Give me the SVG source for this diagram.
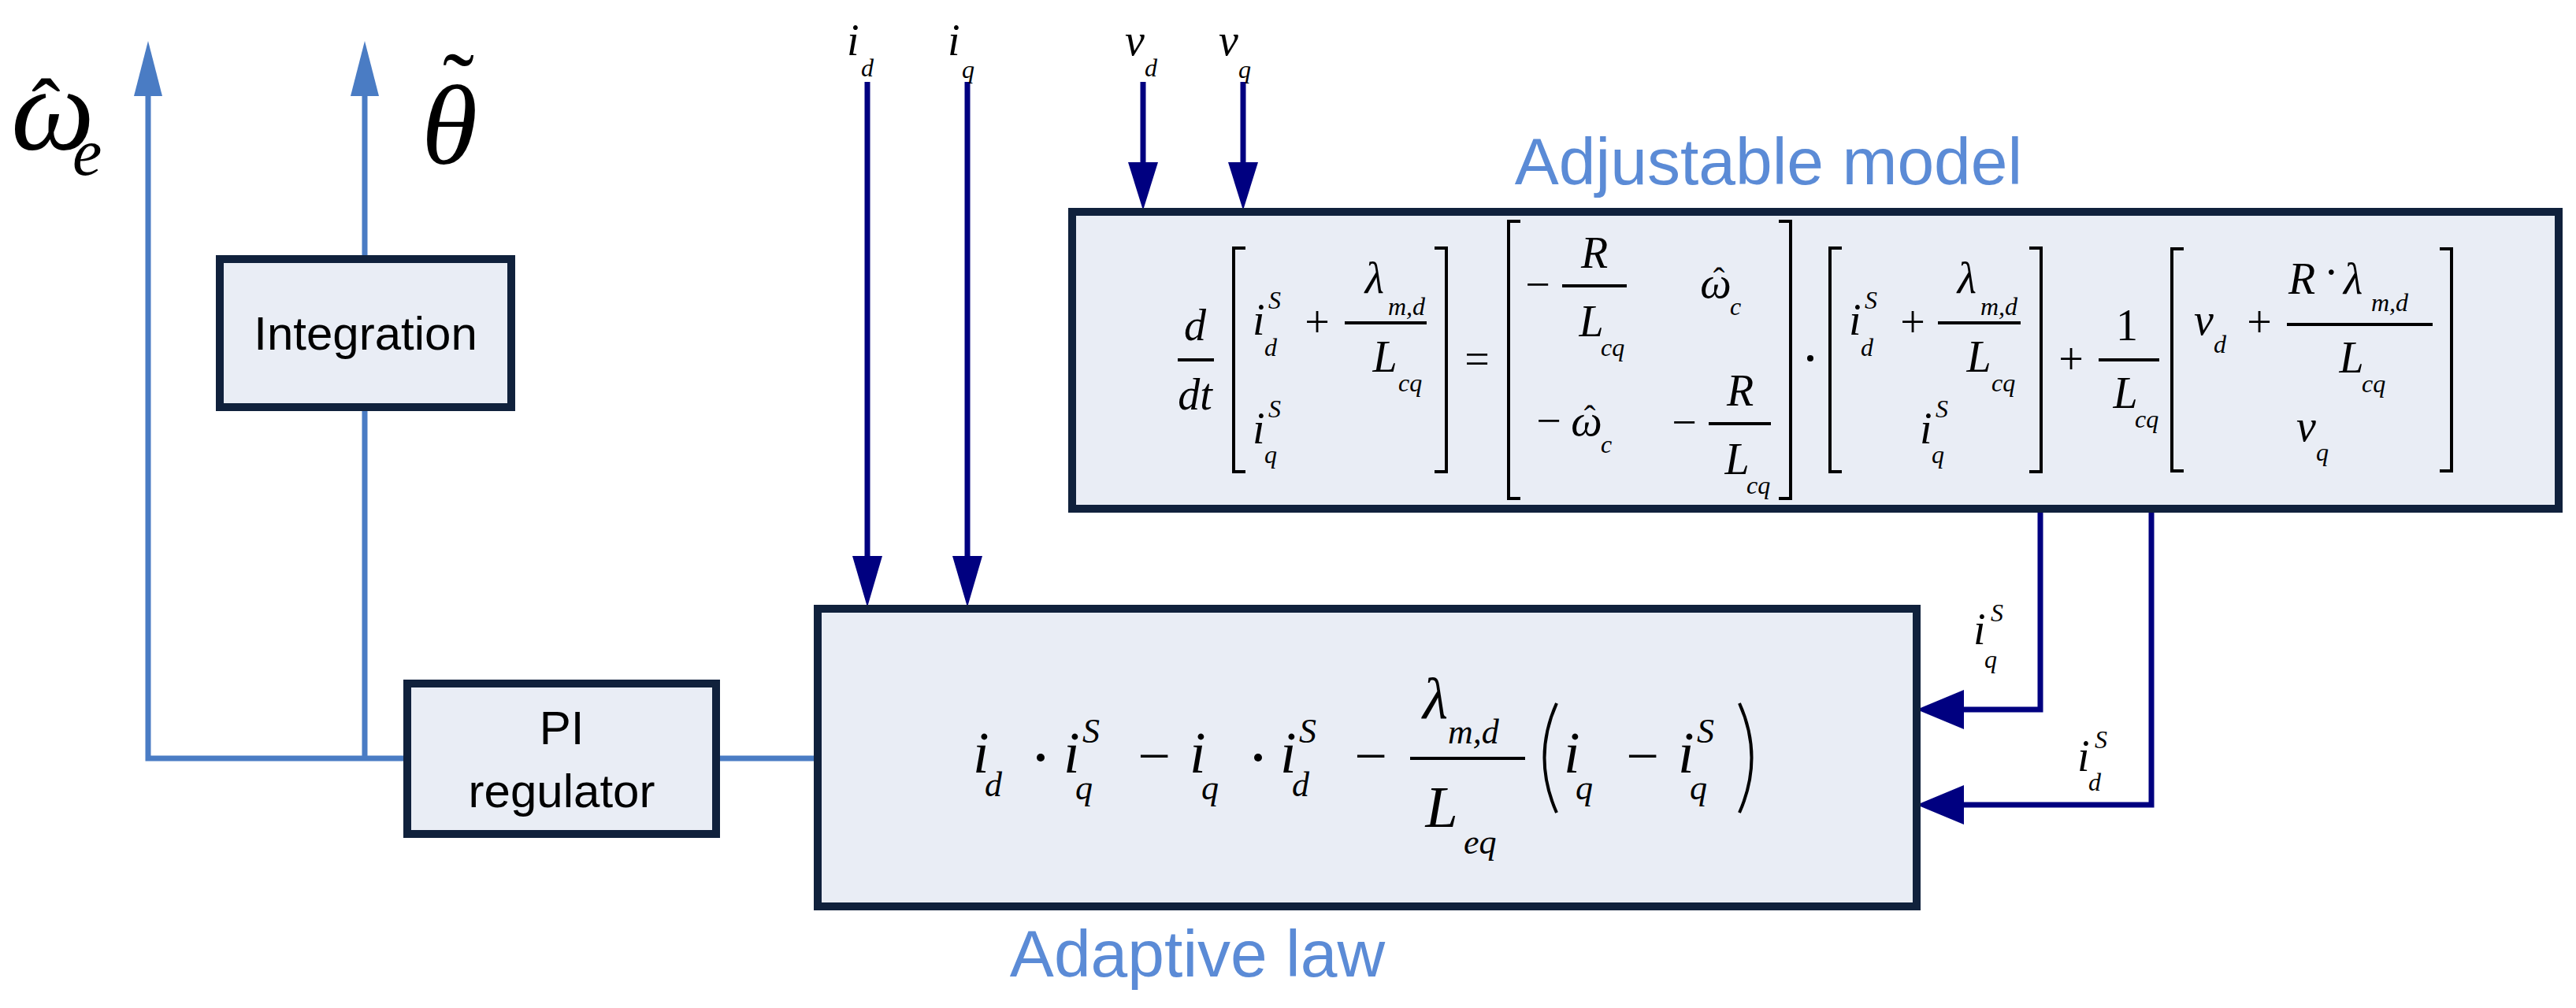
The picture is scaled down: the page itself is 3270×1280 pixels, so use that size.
<svg xmlns="http://www.w3.org/2000/svg" width="3270" height="1280" viewBox="0 0 3270 1280">
<defs>
<style>
.box{fill:#e9edf5;stroke:#10213c;stroke-width:10}
.lb{fill:none;stroke:#4a7cc4;stroke-width:7}
.dk{fill:none;stroke:#000080;stroke-width:7}
.br{fill:none;stroke:#000;stroke-width:4}
.fl{stroke:#000;stroke-width:4}
.m{font-family:"Liberation Serif",serif;font-style:italic;font-size:56px;fill:#000}
.s{font-family:"Liberation Serif",serif;font-style:italic;font-size:32px;fill:#000}
.o{font-family:"Liberation Serif",serif;font-size:56px;fill:#000}
.M{font-family:"Liberation Serif",serif;font-style:italic;font-size:74px;fill:#000}
.S{font-family:"Liberation Serif",serif;font-style:italic;font-size:44px;fill:#000}
.O{font-family:"Liberation Serif",serif;font-size:74px;fill:#000}
.t{font-family:"Liberation Sans",Arial,sans-serif;font-size:60px;fill:#000;text-anchor:middle}
.bl{font-family:"Liberation Sans",Arial,sans-serif;font-size:84px;fill:#5b8bd6;text-anchor:middle}
</style>
</defs>
<g id="connectors">
<path class="lb" d="M188 120 V963 H520"/>
<polygon points="188,52 170,122 206,122" fill="#4a7cc4"/>
<path class="lb" d="M463 120 V327"/>
<polygon points="463,52 445,122 481,122" fill="#4a7cc4"/>
<path class="lb" d="M463 517 V963"/>
<path class="lb" d="M909 963 H1038"/>
<path class="dk" d="M1101 104 V710"/>
<polygon points="1101,771 1082,706 1120,706" fill="#000080"/>
<path class="dk" d="M1228 104 V710"/>
<polygon points="1228,771 1209,706 1247,706" fill="#000080"/>
<path class="dk" d="M1451 104 V210"/>
<polygon points="1451,267 1432,206 1470,206" fill="#000080"/>
<path class="dk" d="M1578 104 V210"/>
<polygon points="1578,267 1559,206 1597,206" fill="#000080"/>
<path class="dk" d="M2590 646 V901 H2490"/>
<polygon points="2433,901 2493,876 2493,926" fill="#000080"/>
<path class="dk" d="M2731 646 V1022 H2490"/>
<polygon points="2433,1022 2493,997 2493,1047" fill="#000080"/>
</g>
<g id="out-omega">
<text class="M" x="14" y="190" style="font-size:150px">ω</text>
<text class="O" x="40" y="176" style="font-size:110px">ˆ</text>
<text class="S" x="92" y="222" style="font-size:84px">e</text>
</g>
<g id="out-theta">
<text class="M" x="535" y="208" style="font-size:145px">θ</text>
<text class="O" x="562" y="150" style="font-size:120px">˜</text>
</g>
<g id="node-integration">
<rect class="box" x="279" y="329" width="370" height="188"/>
<text class="t" x="464" y="444">Integration</text>
</g>
<g id="node-pi">
<rect class="box" x="517" y="868" width="392" height="191"/>
<text class="t" x="713" y="945">PI</text>
<text class="t" x="713" y="1025">regulator</text>
</g>
<g id="in-labels">
<text class="m" x="1075" y="70">i</text><text class="s" x="1093" y="97">d</text>
<text class="m" x="1203" y="70">i</text><text class="s" x="1221" y="99">q</text>
<text class="m" x="1428" y="70">v</text><text class="s" x="1453" y="97">d</text>
<text class="m" x="1547" y="70">v</text><text class="s" x="1572" y="99">q</text>
<text class="m" x="2505" y="818">i</text><text class="s" x="2527" y="789">S</text><text class="s" x="2519" y="848">q</text>
<text class="m" x="2637" y="979">i</text><text class="s" x="2659" y="950">S</text><text class="s" x="2651" y="1004">d</text>
</g>
<g id="node-adjustable">
<rect class="box" x="1361" y="269" width="1887" height="377"/>
<text class="bl" x="2245" y="234">Adjustable model</text>
<text class="m" x="1517" y="432" text-anchor="middle">d</text>
<line class="fl" x1="1495" y1="457" x2="1541" y2="457"/>
<text class="m" x="1517" y="520" text-anchor="middle">dt</text>
<path class="br" d="M1581 315 H1566 V599 H1581 M1821 315 H1836 V599 H1821"/>
<text class="m" x="1590" y="425">i</text><text class="s" x="1610" y="392">S</text><text class="s" x="1605" y="452">d</text>
<text class="o" x="1672" y="428" text-anchor="middle">+</text>
<text class="m" x="1745" y="372" text-anchor="middle">λ</text><text class="s" x="1762" y="400">m,d</text>
<line class="fl" x1="1707" y1="410" x2="1811" y2="410"/>
<text class="m" x="1758" y="472" text-anchor="middle">L</text><text class="s" x="1775" y="497">cq</text>
<text class="m" x="1590" y="563">i</text><text class="s" x="1610" y="530">S</text><text class="s" x="1605" y="588">q</text>
<text class="o" x="1875" y="475" text-anchor="middle">=</text>
<path class="br" d="M1930 281 H1915 V633 H1930 M2258 281 H2273 V633 H2258"/>
<text class="o" x="1952" y="380" text-anchor="middle">−</text>
<text class="m" x="2024" y="340" text-anchor="middle">R</text>
<line class="fl" x1="1983" y1="363" x2="2065" y2="363"/>
<text class="m" x="2020" y="427" text-anchor="middle">L</text><text class="s" x="2032" y="452">cq</text>
<text class="m" x="2178" y="378" text-anchor="middle">ω</text><text class="o" x="2182" y="370" text-anchor="middle" style="font-size:44px">ˆ</text><text class="s" x="2196" y="400">c</text>
<text class="o" x="1966" y="553" text-anchor="middle">−</text>
<text class="m" x="2014" y="553" text-anchor="middle">ω</text><text class="o" x="2018" y="545" text-anchor="middle" style="font-size:44px">ˆ</text><text class="s" x="2032" y="575">c</text>
<text class="o" x="2138" y="555" text-anchor="middle">−</text>
<text class="m" x="2209" y="515" text-anchor="middle">R</text>
<line class="fl" x1="2169" y1="538" x2="2248" y2="538"/>
<text class="m" x="2205" y="602" text-anchor="middle">L</text><text class="s" x="2217" y="627">cq</text>
<circle cx="2298" cy="455" r="4" fill="#000"/>
<path class="br" d="M2338 315 H2323 V599 H2338 M2576 315 H2591 V599 H2576"/>
<text class="m" x="2347" y="425">i</text><text class="s" x="2367" y="392">S</text><text class="s" x="2362" y="452">d</text>
<text class="o" x="2428" y="428" text-anchor="middle">+</text>
<text class="m" x="2497" y="372" text-anchor="middle">λ</text><text class="s" x="2514" y="400">m,d</text>
<line class="fl" x1="2460" y1="410" x2="2565" y2="410"/>
<text class="m" x="2512" y="472" text-anchor="middle">L</text><text class="s" x="2528" y="497">cq</text>
<text class="m" x="2437" y="563">i</text><text class="s" x="2457" y="530">S</text><text class="s" x="2452" y="588">q</text>
<text class="o" x="2629" y="475" text-anchor="middle">+</text>
<text class="o" x="2700" y="432" text-anchor="middle">1</text>
<line class="fl" x1="2664" y1="457" x2="2741" y2="457"/>
<text class="m" x="2698" y="518" text-anchor="middle">L</text><text class="s" x="2710" y="543">cq</text>
<path class="br" d="M2772 316 H2757 V598 H2772 M3097 316 H3112 V598 H3097"/>
<text class="m" x="2785" y="425">v</text><text class="s" x="2810" y="448">d</text>
<text class="o" x="2868" y="428" text-anchor="middle">+</text>
<text class="m" x="2905" y="373">R</text><text class="o" x="2950" y="365">·</text><text class="m" x="2975" y="373">λ</text><text class="s" x="3010" y="395">m,d</text>
<line class="fl" x1="2903" y1="412" x2="3088" y2="412"/>
<text class="m" x="2985" y="473" text-anchor="middle">L</text><text class="s" x="2998" y="498">cq</text>
<text class="m" x="2915" y="560">v</text><text class="s" x="2940" y="585">q</text>
</g>
<g id="node-adaptive">
<rect class="box" x="1038" y="773" width="1395" height="378"/>
<text class="bl" x="1520" y="1240">Adaptive law</text>
<text class="M" x="1235" y="981">i</text><text class="S" x="1250" y="1011">d</text>
<circle cx="1321" cy="962" r="5" fill="#000"/>
<text class="M" x="1350" y="981">i</text><text class="S" x="1374" y="943">S</text><text class="S" x="1365" y="1015">q</text>
<text class="O" x="1465" y="985" text-anchor="middle">−</text>
<text class="M" x="1510" y="981">i</text><text class="S" x="1525" y="1015">q</text>
<circle cx="1597" cy="962" r="5" fill="#000"/>
<text class="M" x="1625" y="981">i</text><text class="S" x="1649" y="943">S</text><text class="S" x="1640" y="1011">d</text>
<text class="O" x="1740" y="985" text-anchor="middle">−</text>
<text class="M" x="1822" y="912" text-anchor="middle">λ</text><text class="S" x="1838" y="944">m,d</text>
<line class="fl" x1="1790" y1="963" x2="1936" y2="963"/>
<text class="M" x="1830" y="1050" text-anchor="middle">L</text><text class="S" x="1858" y="1084">eq</text>
<path d="M1976 893 Q1945 962 1976 1032" fill="none" stroke="#000" stroke-width="4"/>
<text class="M" x="1985" y="981">i</text><text class="S" x="2000" y="1015">q</text>
<text class="O" x="2085" y="985" text-anchor="middle">−</text>
<text class="M" x="2130" y="981">i</text><text class="S" x="2154" y="943">S</text><text class="S" x="2145" y="1015">q</text>
<path d="M2208 893 Q2239 962 2208 1032" fill="none" stroke="#000" stroke-width="4"/>
</g>
</svg>
